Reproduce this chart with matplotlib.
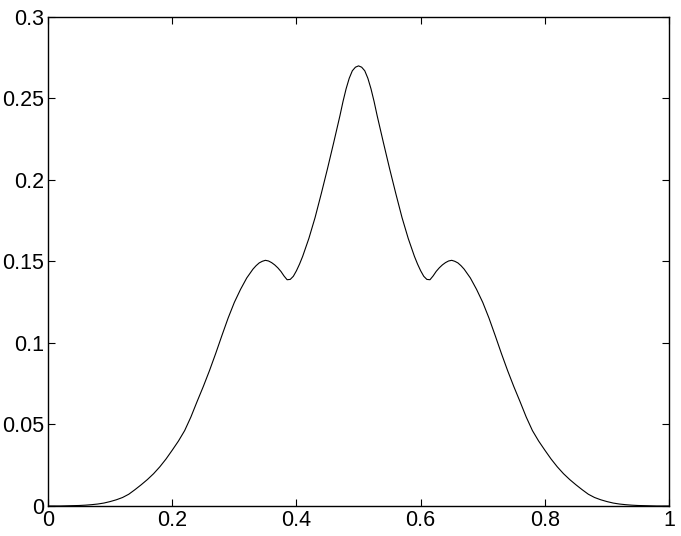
import numpy as np
import matplotlib.pyplot as plt

plt.rcParams['font.family'] = ['Liberation Sans', 'DejaVu Sans']

# values, x step 0.01
x = np.round(np.arange(0, 101) * 0.01, 2)
y = np.array([
    0.0000, 0.0000, 0.0000, 0.0001, 0.0002, 0.0003, 0.0005, 0.0008, 0.0012, 0.0018,
    0.0027, 0.0038, 0.0052, 0.0072, 0.0100, 0.0130, 0.0162, 0.0198, 0.0240, 0.0288,
    0.0342, 0.0398, 0.0462, 0.0545, 0.0640, 0.0732, 0.0830, 0.0935, 0.1045, 0.1152,
    0.1248, 0.1328, 0.1398, 0.1452, 0.1490, 0.1506, 0.1492, 0.1460, 0.1410, 0.1389,
    0.1442, 0.1530, 0.1640, 0.1768, 0.1915, 0.2068, 0.2228, 0.2392, 0.2558, 0.2668,
    0.2698,
    0.2668, 0.2558, 0.2392, 0.2228, 0.2068, 0.1915, 0.1768, 0.1640, 0.1530, 0.1442,
    0.1389, 0.1410, 0.1460, 0.1492, 0.1506, 0.1490, 0.1452, 0.1398, 0.1328, 0.1248,
    0.1152, 0.1045, 0.0935, 0.0830, 0.0732, 0.0640, 0.0545, 0.0462, 0.0398, 0.0342,
    0.0288, 0.0240, 0.0198, 0.0162, 0.0130, 0.0100, 0.0072, 0.0052, 0.0038, 0.0027,
    0.0018, 0.0012, 0.0008, 0.0005, 0.0003, 0.0002, 0.0001, 0.0000, 0.0000, 0.0000,
])

# extra readings around the bumps and the dips
x_extra = np.array([0.335, 0.345, 0.355, 0.365, 0.375, 0.385, 0.395, 0.405,
                    0.475, 0.485, 0.495, 0.505, 0.515, 0.525,
                    0.595, 0.605, 0.615, 0.625, 0.635, 0.645, 0.655, 0.665])
y_extra = np.array([0.1473, 0.1500, 0.1502, 0.1478, 0.1438, 0.1387, 0.1408, 0.1483,
                    0.2480, 0.2622, 0.2690, 0.2690, 0.2622, 0.2480,
                    0.1483, 0.1408, 0.1387, 0.1438, 0.1478, 0.1502, 0.1500, 0.1473])

xticks = [0, 0.2, 0.4, 0.6, 0.8, 1]
xlabels = ['0', '0.2', '0.4', '0.6', '0.8', '1']
yticks = [0, 0.05, 0.1, 0.15, 0.2, 0.25, 0.3]
ylabels = ['0', '0.05', '0.1', '0.15', '0.2', '0.25', '0.3']

xs = np.concatenate([x, x_extra])
ys = np.concatenate([y, y_extra])
order = np.argsort(xs, kind='stable')

fig = plt.figure(figsize=(6.81, 5.36), dpi=100)
ax = fig.add_axes([0.0705, 0.056, 0.912, 0.913])
ax.plot(xs[order], ys[order], color='k', lw=0.8)

ax.set_xlim(0, 1)
ax.set_ylim(0, 0.3)
ax.set_xticks(xticks)
ax.set_xticklabels(xlabels)
ax.set_yticks(yticks)
ax.set_yticklabels(ylabels)
ax.tick_params(direction='in', length=5, width=0.8, top=True, right=True,
               labelsize=15.5, pad=3)
for s in ax.spines.values():
    s.set_linewidth(1.0)

plt.savefig('out.png', dpi=100)
